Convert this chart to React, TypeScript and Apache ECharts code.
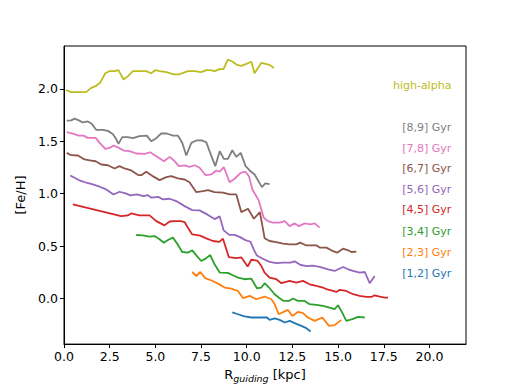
import React, { useEffect, useRef } from "react";
import * as echarts from "echarts";

const xTicks = [0, 2.5, 5, 7.5, 10, 12.5, 15, 17.5, 20];
const yTicks = [0, 0.5, 1, 1.5, 2];

const highAlpha = [[0.1,1.99],[0.39,1.97],[1.21,1.97],[1.49,2.01],[1.76,2.03],[1.98,2.06],[2.26,2.15],[2.49,2.17],[2.77,2.17],[2.98,2.18],[3.26,2.09],[3.49,2.12],[3.77,2.17],[4.23,2.17],[4.5,2.17],[4.77,2.15],[5.01,2.18],[5.23,2.17],[5.6,2.16],[6.01,2.14],[6.29,2.14],[6.78,2.17],[7.15,2.17],[7.51,2.16],[7.79,2.18],[8.0,2.18],[8.24,2.17],[8.52,2.19],[8.73,2.19],[8.97,2.28],[9.24,2.26],[9.46,2.23],[9.7,2.22],[9.98,2.24],[10.25,2.26],[10.43,2.15],[10.8,2.25],[11.25,2.23],[11.49,2.2]];

const age89 = [[0.15,1.698],[0.39,1.70],[0.58,1.717],[0.81,1.70],[1.03,1.68],[1.3,1.69],[1.52,1.667],[1.76,1.61],[2.12,1.61],[2.4,1.60],[2.67,1.57],[2.86,1.52],[2.98,1.476],[3.19,1.54],[3.49,1.54],[3.77,1.53],[4.13,1.55],[4.53,1.555],[4.78,1.50],[5.05,1.53],[5.32,1.575],[5.63,1.575],[5.96,1.555],[6.23,1.555],[6.47,1.486],[6.69,1.365],[6.97,1.486],[7.27,1.51],[7.57,1.508],[7.79,1.49],[8.0,1.39],[8.28,1.263],[8.52,1.406],[8.75,1.333],[8.97,1.333],[9.21,1.415],[9.43,1.352],[9.67,1.39],[9.94,1.263],[10.16,1.222],[10.43,1.184],[10.83,1.063],[11.02,1.1],[11.25,1.092]];

const age78 = [[0.15,1.587],[0.48,1.574],[0.81,1.555],[1.07,1.555],[1.3,1.533],[1.73,1.533],[1.95,1.486],[2.26,1.429],[2.49,1.438],[2.73,1.46],[3.0,1.438],[3.27,1.412],[3.59,1.406],[3.95,1.384],[4.41,1.381],[4.72,1.396],[5.05,1.358],[5.47,1.31],[5.78,1.352],[6.0,1.32],[6.29,1.263],[6.6,1.27],[6.87,1.257],[7.15,1.272],[7.42,1.248],[7.75,1.177],[8.06,1.184],[8.34,1.222],[8.52,1.21],[8.75,1.253],[9.06,1.11],[9.34,1.143],[9.67,1.2],[9.92,1.21],[10.12,1.168],[10.31,1.041],[10.65,0.939],[10.93,0.771],[11.16,0.739],[11.44,0.724],[11.8,0.724],[12.08,0.739],[12.35,0.691],[12.62,0.717],[12.86,0.691],[13.17,0.717],[13.48,0.708],[13.72,0.717],[13.99,0.676]];

const age67 = [[0.15,1.39],[0.39,1.368],[0.76,1.365],[1.12,1.327],[1.49,1.317],[1.73,1.31],[2.04,1.279],[2.4,1.272],[2.77,1.241],[3.04,1.263],[3.31,1.241],[3.68,1.222],[4.08,1.177],[4.23,1.177],[4.5,1.21],[4.86,1.168],[5.23,1.13],[5.6,1.158],[5.87,1.168],[6.23,1.146],[6.6,1.136],[6.87,1.11],[7.24,1.015],[7.6,1.025],[7.88,1.034],[8.24,1.015],[8.7,1.01],[9.06,0.993],[9.43,0.993],[9.7,0.825],[10.07,0.857],[10.39,0.762],[10.72,0.825],[10.98,0.575],[11.25,0.549],[11.62,0.539],[11.98,0.524],[12.35,0.517],[12.71,0.517],[12.93,0.533],[13.23,0.508],[13.53,0.508],[13.81,0.508],[13.99,0.486],[14.36,0.486],[14.63,0.46],[14.94,0.438],[15.27,0.476],[15.55,0.46],[15.73,0.444],[16.0,0.448]];

const age56 = [[0.34,1.174],[0.58,1.152],[0.85,1.127],[1.22,1.105],[1.58,1.089],[1.95,1.067],[2.31,1.041],[2.71,0.993],[3.04,1.019],[3.37,1.003],[3.63,0.984],[3.99,0.993],[4.35,0.977],[4.59,0.987],[4.78,0.962],[5.14,0.971],[5.41,0.946],[5.78,0.952],[6.14,0.93],[6.6,0.882],[7.02,0.844],[7.42,0.841],[7.88,0.798],[8.24,0.758],[8.52,0.784],[8.74,0.65],[9.04,0.607],[9.34,0.608],[9.61,0.588],[9.9,0.56],[10.2,0.542],[10.4,0.462],[10.56,0.41],[10.85,0.382],[11.25,0.35],[11.62,0.338],[11.98,0.343],[12.4,0.343],[12.62,0.355],[12.95,0.32],[13.3,0.31],[13.6,0.313],[13.99,0.301],[14.45,0.279],[14.81,0.263],[15.27,0.301],[15.55,0.279],[15.82,0.263],[16.18,0.248],[16.46,0.253],[16.73,0.146],[17.0,0.215]];

const age45 = [[0.48,0.898],[3.13,0.787],[3.49,0.793],[3.68,0.812],[4.13,0.793],[4.68,0.793],[5.05,0.739],[5.5,0.698],[5.78,0.735],[6.05,0.739],[6.4,0.739],[6.6,0.73],[6.75,0.685],[7.02,0.612],[7.45,0.6],[7.82,0.571],[8.15,0.549],[8.5,0.541],[8.7,0.571],[9.02,0.395],[9.43,0.385],[9.7,0.393],[10.05,0.305],[10.25,0.37],[10.58,0.362],[10.8,0.31],[10.98,0.248],[11.25,0.2],[11.62,0.184],[11.9,0.146],[12.35,0.168],[12.71,0.152],[13.08,0.168],[13.44,0.136],[13.81,0.12],[14.17,0.105],[14.36,0.089],[14.72,0.072],[14.9,0.063],[15.08,0.082],[15.45,0.072],[15.82,0.041],[16.18,0.025],[16.55,0.015],[16.82,0.015],[17.0,0.031],[17.28,0.019],[17.55,0.009],[17.73,0.009]];

const age34 = [[3.95,0.606],[4.32,0.603],[4.68,0.59],[4.96,0.596],[5.19,0.571],[5.47,0.533],[5.69,0.558],[5.96,0.581],[6.18,0.527],[6.47,0.444],[6.78,0.438],[7.02,0.46],[7.24,0.412],[7.51,0.358],[7.75,0.381],[8.0,0.415],[8.24,0.327],[8.52,0.248],[8.97,0.245],[9.24,0.222],[9.52,0.2],[9.88,0.184],[10.25,0.19],[10.56,0.098],[10.8,0.105],[10.98,0.146],[11.22,0.105],[11.53,0.041],[11.8,0.003],[12.02,-0.023],[12.31,-0.023],[12.53,0.0],[12.8,-0.023],[13.17,-0.023],[13.44,-0.054],[13.81,-0.061],[14.17,-0.07],[14.54,-0.086],[14.81,-0.102],[15.0,-0.064],[15.24,-0.14],[15.45,-0.213],[15.78,-0.197],[16.09,-0.175],[16.46,-0.181]];

const age23 = [[7.02,0.253],[7.24,0.215],[7.46,0.253],[7.72,0.195],[8.08,0.172],[8.45,0.14],[8.79,0.105],[9.16,0.095],[9.52,0.072],[9.8,0.003],[10.16,0.025],[10.52,-0.007],[10.98,0.019],[11.35,-0.007],[11.53,-0.054],[11.75,-0.15],[12.13,-0.118],[12.26,-0.109],[12.5,-0.166],[12.8,-0.128],[13.08,-0.14],[13.35,-0.181],[13.72,-0.213],[14.14,-0.181],[14.5,-0.261],[14.81,-0.254],[15.18,-0.204]];

const age12 = [[9.21,-0.133],[9.52,-0.15],[9.88,-0.171],[10.25,-0.181],[10.71,-0.181],[11.11,-0.181],[11.25,-0.204],[11.53,-0.19],[11.8,-0.204],[12.08,-0.229],[12.35,-0.213],[12.62,-0.235],[12.99,-0.261],[13.26,-0.283],[13.5,-0.314]];

const seriesData = [highAlpha, age89, age78, age67, age56, age45, age34, age23, age12];
const labels = ["high-alpha", "[8,9] Gyr", "[7,8] Gyr", "[6,7] Gyr", "[5,6] Gyr", "[4,5] Gyr", "[3,4] Gyr", "[2,3] Gyr", "[1,2] Gyr"];
const labelY = [2.03, 1.63, 1.43, 1.24, 1.04, 0.845, 0.635, 0.44, 0.24];
const labelX = 21.2;
const colors = ["#bcbd22", "#7f7f7f", "#e377c2", "#8c564b", "#9467bd", "#d62728", "#2ca02c", "#ff7f0e", "#1f77b4"];

const FONT = "DejaVu Sans";

export default function App() {
  const ref = useRef<HTMLDivElement>(null);
  useEffect(() => {
    const chart = echarts.init(ref.current!, null, { renderer: "svg" });
    chart.setOption({
      animation: false,
      backgroundColor: "#ffffff",
      grid: {
        left: 64, right: 52, top: 46, bottom: 43,
        show: true, borderColor: "#000", borderWidth: 1, backgroundColor: "transparent",
      },
      xAxis: {
        type: "value", min: 0, max: 22,
        name: "{a|R}{b|guiding}{a| [kpc]}",
        nameLocation: "middle", nameGap: 21,
        nameTextStyle: {
          rich: {
            a: { fontFamily: FONT, fontSize: 13, color: "#000" },
            b: { fontFamily: FONT, fontSize: 9.5, fontStyle: "italic", color: "#000", padding: [7, 0, 0, 0] },
          },
        },
        axisLine: { onZero: false, lineStyle: { color: "#000", width: 1 } },
        axisTick: { show: true, inside: false, length: 4, customValues: xTicks, lineStyle: { color: "#000" } },
        axisLabel: { customValues: xTicks, formatter: (v: number) => v.toFixed(1), color: "#000", fontFamily: FONT, fontSize: 12.5, margin: 6 },
        splitLine: { show: false },
      },
      yAxis: {
        type: "value", min: -0.435, max: 2.41,
        name: "[Fe/H]", nameLocation: "middle", nameGap: 29, nameRotate: 90,
        nameTextStyle: { fontFamily: FONT, fontSize: 13, color: "#000" },
        axisLine: { onZero: false, lineStyle: { color: "#000", width: 1 } },
        axisTick: { show: true, inside: false, length: 4, customValues: yTicks, lineStyle: { color: "#000" } },
        axisLabel: { customValues: yTicks, formatter: (v: number) => v.toFixed(1), color: "#000", fontFamily: FONT, fontSize: 12.5, margin: 6 },
        splitLine: { show: false },
      },
      series: seriesData.map((d, i) => ({
        type: "line",
        name: labels[i],
        data: d,
        showSymbol: false,
        symbol: "none",
        lineStyle: { color: colors[i], width: 1.8 },
        z: 10 - i,
      })),
    });
    const graphic = labels.map((t, i) => {
      const [px, py] = chart.convertToPixel({ gridIndex: 0 }, [labelX, labelY[i]]) as number[];
      return {
        type: "text", x: px, y: py,
        style: { text: t, fill: colors[i], fontFamily: FONT, fontSize: 11, align: "right", verticalAlign: "middle" },
      };
    });
    chart.setOption({ graphic });
    return () => chart.dispose();
  }, []);
  return <div ref={ref} style={{ position: "fixed", left: 0, top: 0, width: 518, height: 388 }} />;
}
